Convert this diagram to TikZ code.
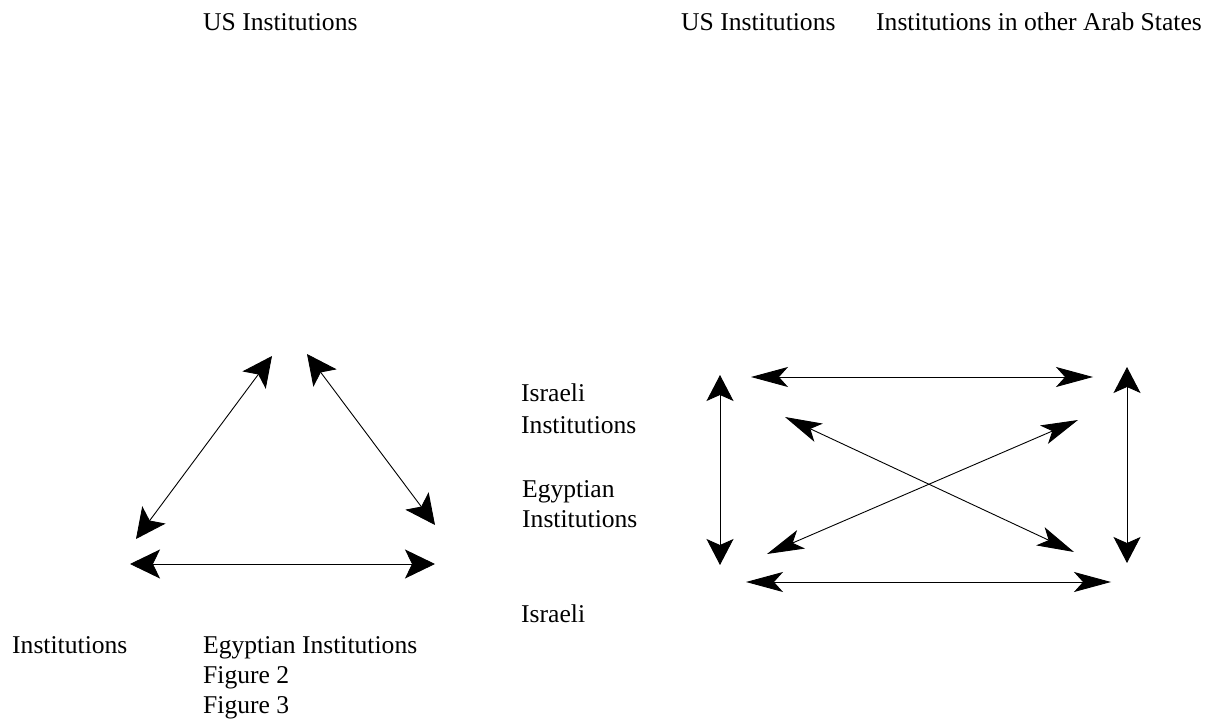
\documentclass[tikz,border=0pt]{standalone}
\usepackage{fontspec}
\setmainfont{Liberation Serif}
\usetikzlibrary{arrows.meta}
\begin{document}
\begin{tikzpicture}[x=1pt,y=-1pt,
  lbl/.style={anchor=base west,inner sep=0pt,font=\fontsize{25.6pt}{30pt}\selectfont},
  bigtip/.style={line width=0.9pt,{Stealth[length=30pt,width=29pt,inset=7pt]}-{Stealth[length=30pt,width=29pt,inset=7pt]}},
  longtip/.style={line width=0.9pt,{Stealth[length=37pt,width=20pt,inset=9pt]}-{Stealth[length=37pt,width=20pt,inset=9pt]}},
  vtip/.style={line width=0.9pt,{Stealth[length=26pt,width=27pt,inset=6pt]}-{Stealth[length=26pt,width=27pt,inset=6pt]}}]
\useasboundingbox (0,0) rectangle (1211,719);
% labels
\node[lbl] (usL) at (203,31) {US Institutions};
\node[lbl] (usR) at (681,31) {US Institutions};
\node[lbl] (arab) at (876,31) {Institutions in other Arab States};
\node[lbl] (isr1a) at (521,402) {Israeli};
\node[lbl] (isr1b) at (521,433) {Institutions};
\node[lbl] (egy1a) at (522,497) {Egyptian};
\node[lbl] (egy1b) at (522,527) {Institutions};
\node[lbl] (isr2) at (521,622) {Israeli};
\node[lbl] (inst) at (12,653) {Institutions};
\node[lbl] (egy2) at (203,653) {Egyptian Institutions};
\node[lbl] (fig2) at (203,683) {Figure 2};
\node[lbl] (fig3) at (203,713) {Figure 3};
% left triangle
\coordinate (a1) at (272,356);
\coordinate (a2) at (136,539);
\coordinate (b1) at (307,354);
\coordinate (b2) at (435,525);
\coordinate (c1) at (130,564);
\coordinate (c2) at (435,564);
\draw[bigtip] (a2) -- (a1);
\draw[bigtip] (b1) -- (b2);
\draw[bigtip] (c1) -- (c2);
% right panel
\coordinate (t1) at (751,377);
\coordinate (t2) at (1093,377);
\coordinate (l1) at (720,375);
\coordinate (l2) at (720,565);
\coordinate (r1) at (1127,367);
\coordinate (r2) at (1127,563);
\coordinate (d1) at (785,417);
\coordinate (d2) at (1074,552);
\coordinate (e1) at (767,554);
\coordinate (e2) at (1078,420);
\coordinate (g1) at (746,582);
\coordinate (g2) at (1111,582);
\draw[longtip] (t1) -- (t2);
\draw[vtip] (l1) -- (l2);
\draw[vtip] (r1) -- (r2);
\draw[longtip] (d1) -- (d2);
\draw[longtip] (e1) -- (e2);
\draw[longtip] (g1) -- (g2);
\end{tikzpicture}
\end{document}
